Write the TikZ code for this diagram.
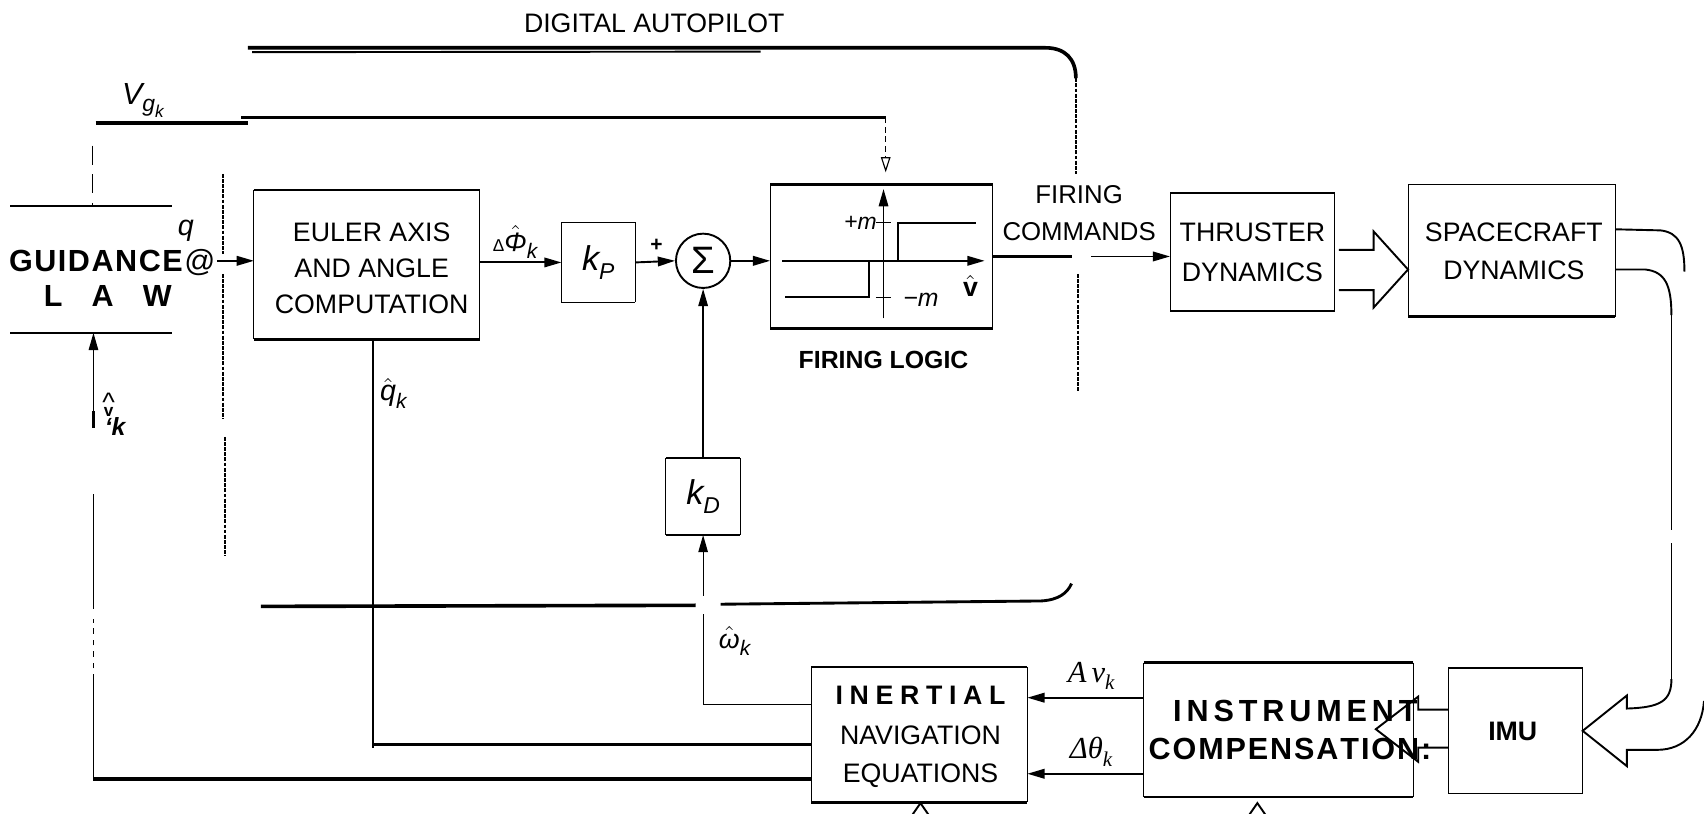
\documentclass[tikz,border=0pt]{standalone}
\usepackage{fontspec}
\setmainfont{Liberation Sans}
\newfontfamily\tms{Liberation Serif}
\usetikzlibrary{arrows.meta,fit}
\newcommand{\fs}[1]{\fontsize{#1}{#1}\selectfont}
\newcommand{\boxlines}[3]{%
  \draw[line width=0.5pt] (#1.north west) -- (#1.south west) (#1.north east) -- (#1.south east);
  \draw[line width=#2] (#1.north west) -- (#1.north east);
  \draw[line width=#3] (#1.south west) -- (#1.south east);}
\begin{document}
\begin{tikzpicture}[x=0.02cm,y=-0.02cm,
  thinl/.style={line width=0.6pt},
  heavy/.style={line width=1.9pt},
  med/.style={line width=1.1pt},
  dotl/.style={line width=1.2pt, dash pattern=on 2pt off 0.7pt},
  arr/.style={-{Triangle[length=9pt,width=5pt]}, line width=1pt},
  box/.style={inner sep=0pt},
  txt/.style={inner sep=0pt, align=center},
]
\useasboundingbox (0,0) rectangle (1568,749);

% ---------- blocks ----------
\node[box, fit={(10,190) (158,306)}] (guid) {};
\node[box, fit={(234,175) (441,312)}] (eul) {};
\node[box, fit={(517,205) (584,278)}] (kp) {};
\node[draw, circle, line width=1pt, minimum size=1cm, inner sep=0pt, font=\fs{20}] (sig) at (647,240) {Σ};
\node[box, fit={(709,170) (913,302)}] (fir) {};
\node[box, fit={(1077,178) (1228,286)}] (thr) {};
\node[box, fit={(1296,170) (1486,291)}] (sc) {};
\node[box, fit={(613,422) (681,492)}] (kd) {};
\node[box, fit={(747,614) (945,738)}] (ine) {};
\node[box, fit={(1053,610) (1300,733)}] (inst) {};
\node[box, fit={(1333,615) (1456,730)}] (imu) {};

\draw[line width=1pt] (guid.north west) -- (guid.north east);
\draw[line width=1pt] (guid.south west) -- (guid.south east);
\boxlines{eul}{0.8pt}{1.9pt}
\boxlines{kp}{0.8pt}{0.8pt}
\boxlines{fir}{1.6pt}{1.6pt}
\boxlines{thr}{0.9pt}{1.2pt}
\boxlines{sc}{0.8pt}{1.9pt}
\boxlines{kd}{0.8pt}{0.9pt}
\boxlines{ine}{0.9pt}{1.2pt}
\boxlines{inst}{1.9pt}{0.9pt}
\boxlines{imu}{1pt}{0.8pt}

% ---------- firing logic relay characteristic ----------
\draw[arr, line width=0.9pt] (720,240) -- (906,240);
\draw[arr, line width=0.7pt] (813,293) -- (813,174);
\draw[med] (826,240) -- (826,205) -- (898,205);
\draw[med] (800,240) -- (800,273) -- (722,273);
\draw[thinl] (806,205) -- (820,205) (806,274) -- (820,274);

% ---------- texts ----------
\node[txt, font=\fs{14}] (titl) at (602,21) {DIGITAL AUTOPILOT};
\node[txt, font=\fs{16}\itshape, anchor=base west] (vlab) at (112,96) {V\raisebox{-4pt}{\fs{12}g\raisebox{-3pt}{\fs{9}k}}};
\node[txt, anchor=base west, font=\fs{16}\bfseries] (gtxt1) at (8,250) {\makebox[108pt][s]{G\hfill U\hfill I\hfill D\hfill A\hfill N\hfill C\hfill E\hfill \mdseries@}};
\node[txt, anchor=base west, font=\fs{16}\bfseries] (gtxt2) at (40,282) {\makebox[67pt][s]{L\hfill A\hfill W}};
\node[txt, font=\fs{15}\itshape] (qlab) at (171,212) {q};
\node[txt, font=\fontsize{14}{18.8}\selectfont] (eult) at (342,247) {EULER AXIS\\AND ANGLE\\COMPUTATION};
\node[txt, font=\fs{14}\itshape, anchor=base] (philab) at (474,231) {{\fs{9}\upshape Δ}$\hat{\mbox{\itshape Φ}}$\raisebox{-4pt}{\fs{11}k}};
\node[txt, font=\fs{18}\itshape] (kpt) at (kp.center) {k\raisebox{-5pt}{\fs{12}P}};
\node[txt, font=\fs{11}\bfseries] (plus) at (604,226) {+};
\node[txt, font=\fs{12}\itshape, anchor=east] (pm) at (807,205) {+m};
\node[txt, font=\fs{13}\itshape, anchor=west] (mm) at (831,276) {−m};
\node[txt, font=\fs{14}\bfseries] (vhat) at (893,263) {$\hat{\mbox{v}}$};
\node[txt, font=\fs{13}\bfseries] (fll) at (813,331) {FIRING LOGIC};
\node[txt, font=\fontsize{13.5}{19.4}\selectfont] (fcm) at (993,196) {FIRING\\COMMANDS};
\node[txt, font=\fontsize{14}{21}\selectfont] (thrt) at (thr.center) {THRUSTER\\DYNAMICS};
\node[txt, font=\fontsize{14}{20}\selectfont] (sct) at (1393,231) {SPACECRAFT\\DYNAMICS};
\node[txt, font=\fs{18}\itshape] (kdt) at (kd.center) {k\raisebox{-5pt}{\fs{12}D}};
\node[txt, font=\fs{15}\itshape] (qhl) at (362,362) {$\hat{\mbox{q}}$\raisebox{-4pt}{\fs{11}k}};
\node[txt, font=\fs{14}\itshape] (wlab) at (676,590) {$\hat{\mbox{ω}}$\raisebox{-4pt}{\fs{11}k}};
\node[txt, font=\fs{14}] (glab) at (100,370) {\textasciicircum};
\node[txt, font=\fs{9}\bfseries] (glab1) at (100,379) {v};
\node[txt, font=\fs{13}\bfseries\itshape, anchor=north] (glab2) at (106,384) {‘k};
\node[txt, font=\tms\fs{16}\itshape] (avl) at (1004,622) {A\,v\raisebox{-4pt}{\fs{11}k}};
\node[txt, font=\tms\fs{16}\itshape] (dtl) at (1004,692) {Δθ\raisebox{-4pt}{\fs{11}k}};
\node[txt, anchor=base, font=\fs{14}\bfseries] (inet1) at (847,648) {\makebox[89pt][s]{I\hfill N\hfill E\hfill R\hfill T\hfill I\hfill A\hfill L}};
\node[txt, anchor=base, font=\fs{14}] (inet2) at (847,685) {NAVIGATION};
\node[txt, anchor=base, font=\fs{14}] (inet3) at (847,720) {EQUATIONS};
\node[txt, anchor=base, font=\fs{16}\bfseries] (inst1) at (1192,664) {\makebox[128pt][s]{I\hfill N\hfill S\hfill T\hfill R\hfill U\hfill M\hfill E\hfill N\hfill T}};
\node[txt, anchor=base, font=\fs{16}\bfseries] (inst2) at (1187,699) {\makebox[148pt][s]{C\hfill O\hfill M\hfill P\hfill E\hfill N\hfill S\hfill A\hfill T\hfill I\hfill O\hfill N\hfill :}};
\node[txt, anchor=base, font=\fs{14}\bfseries] (imut) at (1392,681) {IMU};

% ---------- autopilot frame ----------
\draw[heavy] (228,44) -- (962,44) .. controls (980,44) and (990,54) .. (990,72);
\draw[line width=1pt] (232,48) -- (700,47.5);
\draw[dotl] (990,72) -- (990,160);
\draw[dotl] (992,252) -- (992,360);
\draw[heavy] (240,558) -- (640,557);
\draw[line width=1.5pt] (663,556) -- (958,553) .. controls (974,552) and (982,546) .. (986,537);
\draw[dotl] (205,160) -- (205,234) (205,252) -- (205,386) (207,402) -- (207,512);

% ---------- connectors ----------
\coordinate (vgR) at (815,108);
\coordinate (gup) at (85,134);
\coordinate (qa) at (200,240);
\coordinate (r1) at (0,642);
\coordinate (r2) at (0,648);
\coordinate (r3) at (0,685);
\coordinate (r4) at (0,717);
\coordinate (r5) at (0,712);
\coordinate (cutL) at (986,236);
\coordinate (cutR) at (1004,236);

\draw[heavy] (88,113) -- (228,113);
\draw[heavy] (222,108) -- (vgR);
\draw[thinl, densely dashed, -{Triangle[open,length=8pt,width=5pt]}, shorten >=0.22cm] (vgR) -- (vgR |- fir.north);
\draw[thinl, dash pattern=on 10pt off 5pt] (gup) -- (gup |- guid.north);

\draw[arr] (qa) -- (eul.west |- qa);
\draw[arr] (eul.east |- kp.west) -- (kp.west);
\draw[arr] (kp.east) -- (sig.west);
\draw[arr] (sig.east) -- (fir.west |- sig.east);
\draw[med] (fir.east |- cutL) -- (cutL);
\draw[arr] (cutR) -- (thr.west |- cutR);
\draw[arr, line width=0.7pt] (kd.north) -- (sig.south);

% hollow arrow thruster -> spacecraft
\draw[line width=1pt] (1232,230) -- (1264,230) -- (1264,213) -- (sc.west |- 0,248) -- (1264,283) -- (1264,267) -- (1232,267);

% pipe spacecraft -> IMU
\draw[line width=1pt] (sc.east |- 0,211) -- (1528,212) .. controls (1545,214) and (1550,226) .. (1550,250);
\draw[line width=1pt] (sc.east |- 0,248) -- (1514,248) .. controls (1532,250) and (1538,262) .. (1538,290);
\draw[thinl] (1538,290) -- (1538,488) (1538,500) -- (1538,625);
\draw[line width=1pt] (1538,625) .. controls (1538,645) and (1528,651) .. (1497,652) -- (1497,640) -- (imu.east) -- (1497,705) -- (1497,690) -- (1525,690) .. controls (1550,690) and (1566,672) .. (1568,645);

% hollow arrow IMU -> instrument compensation
\draw[line width=1pt] (imu.west |- 0,653) -- (1305,653) -- (1305,641) -- (1266,671) -- (1305,701) -- (1305,688) -- (imu.west |- 0,688);

% instrument -> inertial
\draw[arr] (inst.west |- r1) -- (ine.east |- r1);
\draw[arr] (inst.west |- r5) -- (ine.east |- r5);

% carets below
\draw[line width=1pt] (838,752) -- (847,739) -- (856,752);
\draw[line width=1pt] (1148,752) -- (1157,739) -- (1166,752);

% omega feedback
\draw[thinl] (ine.west |- r2) -- (kd.south |- r2) -- (kd.south |- 0,565);
\draw[arr, line width=0.6pt] (kd.south |- 0,548) -- (kd.south);

% q-hat feedback
\draw[line width=1.3pt] (ine.west |- r3) -- (343,685);
\draw[line width=1.1pt] (343,688) -- (343,312);

% to guidance law
\draw[heavy] (ine.west |- r4) -- (86,717);
\draw[line width=1pt] (86,717) -- (86,620);
\draw[thinl, dashed] (86,615) -- (86,570);
\draw[thinl] (86,560) -- (86,455);
\draw[arr, line width=0.6pt] (86,392) -- (guid.south -| 86,0);
\draw[line width=2pt] (86,378) -- (86,394);
\end{tikzpicture}
\end{document}
